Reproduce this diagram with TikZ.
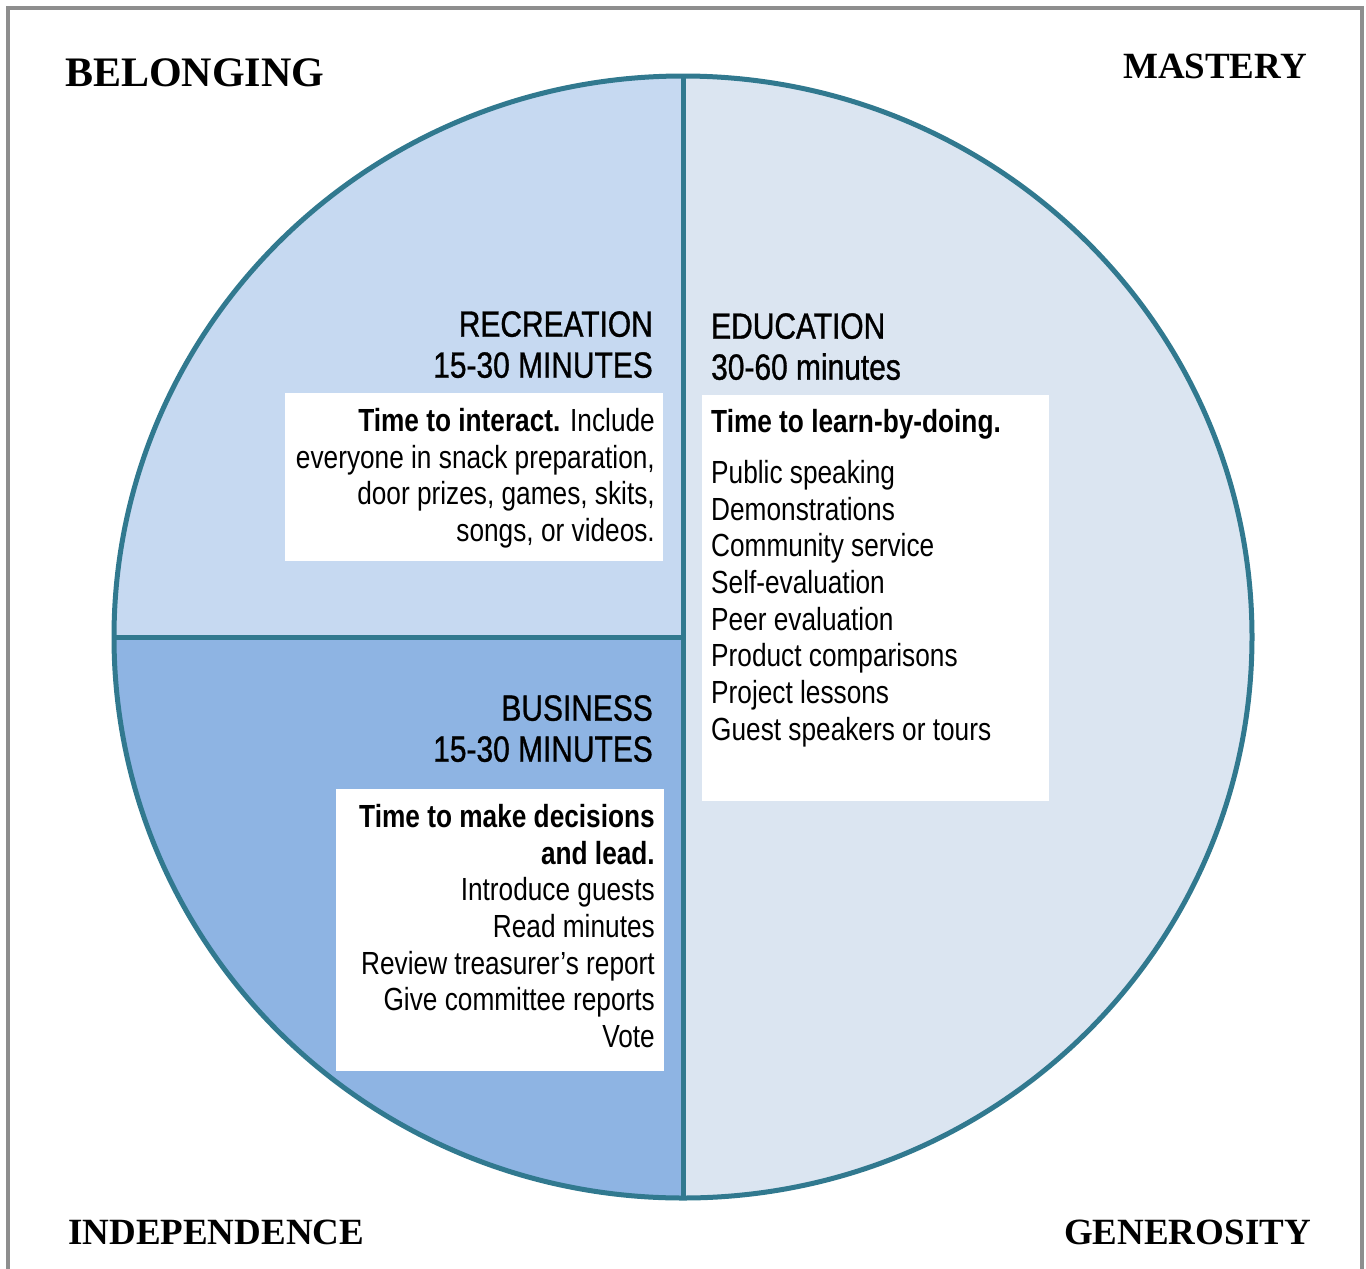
\documentclass[tikz,border=0pt]{standalone}
\usepackage{fontspec}
\setmainfont{Liberation Serif}
\newfontfamily\narrowsf[FakeStretch=0.82]{Liberation Sans}
\newfontfamily\narrowhd[FakeStretch=0.82,FakeBold=0.9]{Liberation Sans}
\usepackage{xcolor}
\definecolor{recfill}{HTML}{C6D9F1}
\definecolor{edufill}{HTML}{DBE5F1}
\definecolor{busfill}{HTML}{8EB4E3}
\definecolor{rimcol}{HTML}{31798F}
\definecolor{framecol}{HTML}{8E8E8E}
\tikzset{
  rim/.style={draw=rimcol, line width=5pt},
  head/.style={font=\narrowhd\fontsize{36.5}{41}\selectfont, inner sep=0pt},
  body/.style={font=\narrowsf\fontsize{32}{36.7}\selectfont, inner sep=0pt},
  corner/.style={font=\bfseries\fontsize{37}{40}\selectfont, inner sep=0pt},
}

\begin{document}
\begin{tikzpicture}[x=1pt, y=-1pt]
\useasboundingbox (0,0) rectangle (1366,1269);
\draw[framecol, line width=4pt] (8,8) rectangle (1362,1300);
% the four parts of the meeting
\begin{scope}
  \clip (683,637) ellipse [x radius=569, y radius=561];
  \fill[edufill] (683,0) rectangle (1366,1269);
  \fill[recfill] (0,0) rectangle (683,637);
  \fill[busfill] (0,637) rectangle (683,1269);
\end{scope}
\draw[rim] (683,637) ellipse [x radius=569, y radius=561];
\draw[rim] (683,76)--(683,1198);
\draw[rim] (114,637)--(683,637);
% white boxes
\fill[white] (285,393) rectangle (663,561);
\fill[white] (702,395) rectangle (1049,801);
\fill[white] (336,789) rectangle (664,1071);
% recreation
\node[head, anchor=north east, align=right] (rechead) at (653,311)
  {RECREATION\\15-30 MINUTES};
\node[body, anchor=north east, align=right] (recbody) at (655,408)
  {{\bfseries Time to interact.} Include\\everyone in snack preparation,\\door prizes, games, skits,\\songs, or videos.};
% education
\node[head, anchor=north west, align=left] (eduhead) at (711,313)
  {EDUCATION\\30-60 minutes};
\node[body, anchor=north west] (edutask) at (711,409) {\bfseries Time to learn-by-doing.};
\node[body, anchor=north west, align=left] (edulist) at (711,460)
  {Public speaking\\Demonstrations\\Community service\\Self-evaluation\\Peer evaluation\\Product comparisons\\Project lessons\\Guest speakers or tours};
% business
\node[head, anchor=north east, align=right] (bushead) at (653,695)
  {BUSINESS\\15-30 MINUTES};
\node[body, anchor=north east, align=right] (busbody) at (655,804)
  {\bfseries Time to make decisions\\\bfseries and lead.\\Introduce guests\\Read minutes\\Review treasurer’s report\\Give committee reports\\Vote};
% corner labels
\node[corner, font=\bfseries\fontsize{42}{44}\selectfont, anchor=base west] (belong) at (65,86) {BELONGING};
\node[corner, anchor=base east] (master) at (1307,78) {MASTERY};
\node[corner, anchor=base west] (indep) at (68,1244) {INDEPENDENCE};
\node[corner, anchor=base east] (gener) at (1311,1244) {GENEROSITY};
\end{tikzpicture}
\end{document}
